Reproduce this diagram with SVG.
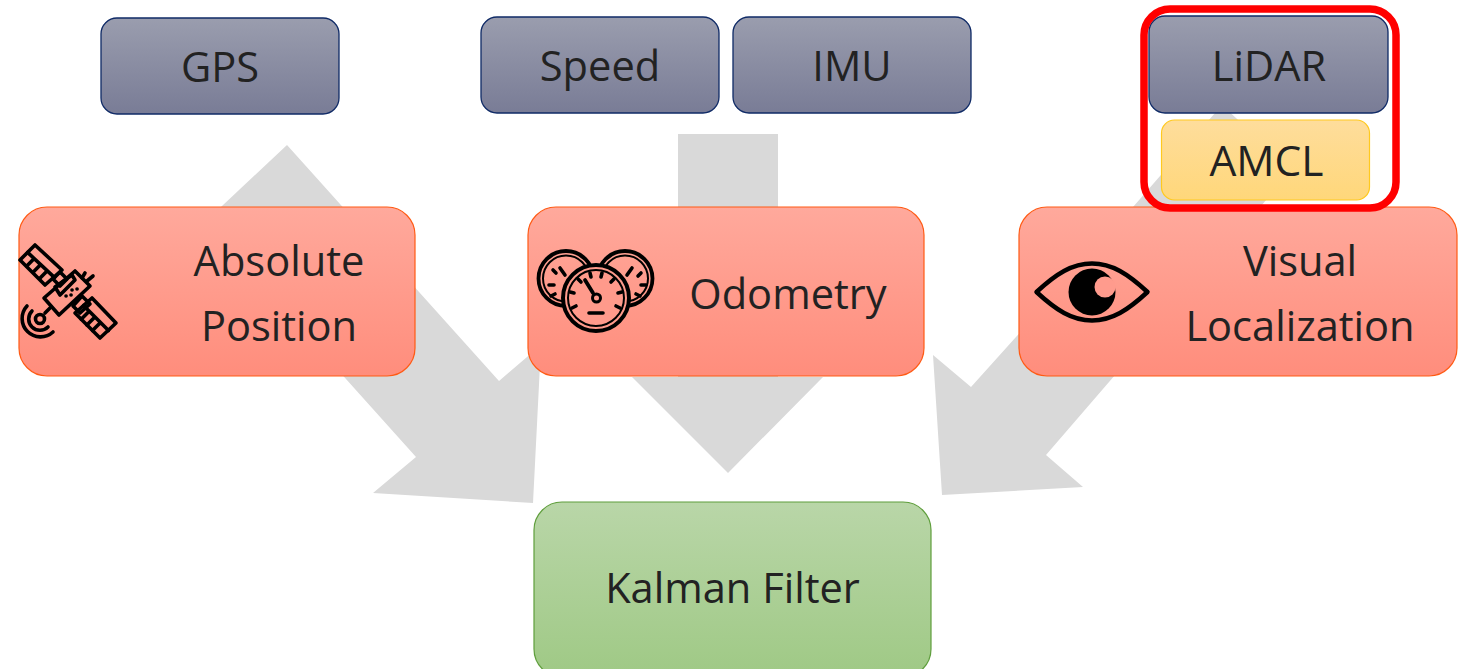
<svg xmlns="http://www.w3.org/2000/svg" width="1462" height="669" viewBox="0 0 1462 669">
<style>
text{font-family:"Open Sans","Noto Sans","Liberation Sans",sans-serif;font-size:41.6px;fill:#222;text-anchor:middle}
.blue{fill:url(#gBlue);stroke:#0f2a66;stroke-width:1.3}
.red{fill:url(#gRed);stroke:#ff5a14;stroke-width:1.2}
.arrow{fill:#d9d9d9}
.ic{fill:none;stroke:#000;stroke-width:3.600;stroke-linejoin:round;stroke-linecap:round}
.thin{stroke-width:2}
</style>
<defs>
<linearGradient id="gBlue" x1="0" y1="0" x2="0" y2="1"><stop offset="0" stop-color="#9a9dae"/><stop offset="1" stop-color="#797c96"/></linearGradient>
<linearGradient id="gRed" x1="0" y1="0" x2="0" y2="1"><stop offset="0" stop-color="#ffa99c"/><stop offset="1" stop-color="#ff8d7c"/></linearGradient>
<linearGradient id="gGreen" x1="0" y1="0" x2="0" y2="1"><stop offset="0" stop-color="#b9d6a8"/><stop offset="1" stop-color="#9fc985"/></linearGradient>
<linearGradient id="gYellow" x1="0" y1="0" x2="0" y2="1"><stop offset="0" stop-color="#fedd9c"/><stop offset="1" stop-color="#ffd77a"/></linearGradient>
</defs>
<g id="connectors">
<polygon class="arrow" points="287,145 499,381 541,345 533,503 373,493 416,457 205,222"/>
<polygon class="arrow" points="678,134 778,134 778,377 823,377 728,473 632,377 678,377"/>
<polygon class="arrow" points="1133,207 1222,105 1292,170 1046,455 1083,487 942,495 933,355 971,387"/>
</g>
<g id="gps"><rect class="blue" x="101" y="18" width="238" height="96" rx="16"/><text x="220" y="82">GPS</text></g>
<g id="speed"><rect class="blue" x="481" y="17" width="238" height="96" rx="16"/><text x="600" y="81">Speed</text></g>
<g id="imu"><rect class="blue" x="733" y="17" width="238" height="96" rx="16"/><text x="852" y="81">IMU</text></g>
<g id="lidar"><rect class="blue" x="1149" y="16" width="239" height="97" rx="16"/><text x="1269" y="81">LiDAR</text></g>
<g id="amcl"><rect x="1161.500" y="120" width="208" height="80" rx="13" fill="url(#gYellow)" stroke="#ffc91f" stroke-width="1.2"/><text x="1266.500" y="176" style="font-size:42.500px">AMCL</text></g>
<g id="absolute"><rect class="red" x="19" y="207" width="396" height="169" rx="28"/>
<text x="279" y="276">Absolute</text><text x="279" y="341">Position</text>
<g class="ic">
<path d="M35 245L62 270L45 285L20 260Z"/>
<path d="M27.600 252.400L54.600 277.600M34.200 258.500L26.800 265.900M40.700 264.600L33.300 272M47.300 270.800L39.900 278.200"/>
<path d="M53 279L60 272L67 279L60 286Z"/>
<path d="M75 271L90 286L59 315L44 298Z"/>
<path d="M55 287L72 275L75 280L60 295Z"/>
<path d="M82 278L85 273M87 281L93 276"/>
<path d="M73 306L82 296L90 304L80 313Z"/>
<path d="M92 298L116 323L100 338L75 313Z"/>
<path d="M83.500 305.500L108.500 330.500M89.200 311.200L81.200 319.200M94.900 316.900L86.900 324.900M100.500 322.500L92.500 330.500"/>
<path d="M50 308L45 313"/>
<circle cx="40" cy="319" r="4.500"/>
<path d="M27 306A18.400 18.400 0 0 0 53 332M32 311A11 11 0 0 0 48 327"/>
<path d="M72 290h.1M77 289h.1M66 296h.1M71 295h.1"/>
</g></g>
<g id="odometry"><rect class="red" x="528" y="207" width="396" height="169" rx="28"/>
<text x="788" y="309">Odometry</text>
<g class="ic">
<circle cx="566" cy="278.500" r="27.500" stroke-width="3.800"/>
<circle cx="566" cy="278.500" r="23" class="thin"/>
<path d="M560 268L565 275M553 270l3 3M549 285h5M551 296l4 -2"/>
<circle cx="625" cy="278.500" r="27.500" stroke-width="3.800"/>
<circle cx="625" cy="278.500" r="23" class="thin"/>
<path d="M632 268L627 275M641 273l-3 3M646 285h-5M640 296l-4 -2"/>
<circle cx="596" cy="298" r="33" fill="#ff9a8b" stroke-width="4"/>
<circle cx="596" cy="298" r="28" class="thin"/>
<path d="M590 273l1 4M602 273l-1 4M578 279l3 3M614 279l-3 3M570 292l4 1M622 292l-4 1M572 308l4 -2M620 308l-4 -2M589 313h14"/>
<path d="M585 280L593 293" stroke-width="3.800"/>
<circle cx="596.500" cy="298" r="4" stroke-width="3"/>
</g></g>
<g id="visual"><rect class="red" x="1019" y="207" width="438" height="169" rx="28"/>
<text x="1300" y="276">Visual</text><text x="1300" y="341">Localization</text>
<path d="M1036.500 292C1056 274 1072 263.500 1092 263.500C1112 263.500 1128 274 1147.500 292C1128 310 1112 320.500 1092 320.500C1072 320.500 1056 310 1036.500 292Z" fill="none" stroke="#000" stroke-width="4.500" stroke-linejoin="round"/>
<circle cx="1092" cy="292" r="23.500" fill="#000"/>
<circle cx="1105" cy="287" r="10.500" fill="#ff9b8d"/>
</g>
<g id="kalman"><rect x="534" y="502" width="397" height="175" rx="28" fill="url(#gGreen)" stroke="#5f9e3c" stroke-width="1.200"/><text x="732.500" y="603">Kalman Filter</text></g>
<rect id="highlight" x="1144" y="9" width="252" height="199" rx="26" fill="none" stroke="#ff0000" stroke-width="7.500"/>
</svg>
